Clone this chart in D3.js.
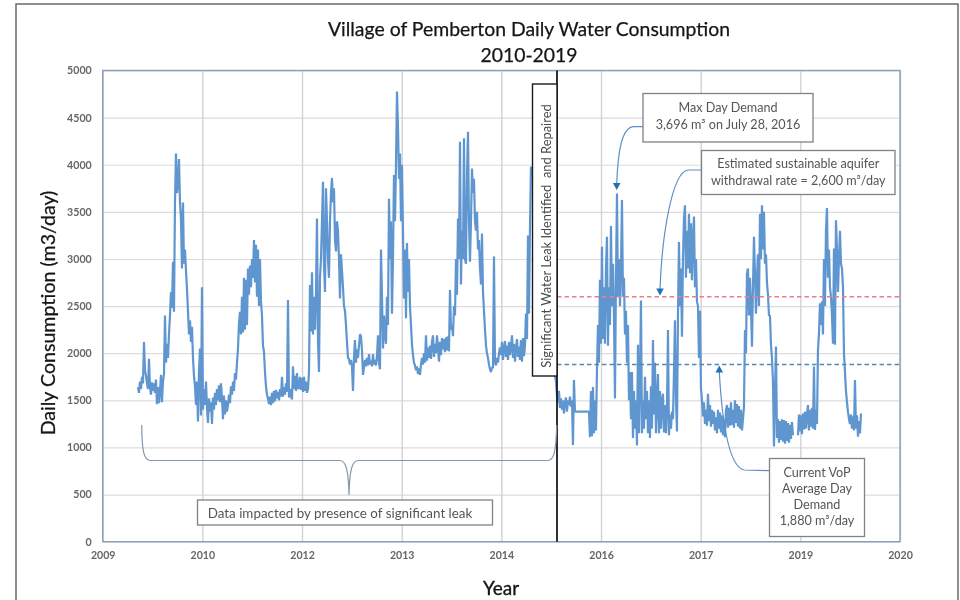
<!DOCTYPE html>
<html>
<head>
<meta charset="utf-8">
<title>Village of Pemberton Daily Water Consumption</title>
<script src="https://cdnjs.cloudflare.com/ajax/libs/d3/7.8.5/d3.min.js"></script>
<style>
	html, body { margin: 0; padding: 0; background: #fff; }
	svg { display: block; filter: blur(0.35px); }
	text { font-family: Lato, "Open Sans", sans-serif; }
</style>
</head>
<body>
<svg id="chart"></svg>
<script>
// x axis is an Excel date axis: serial days, major unit 500, labels shown as yyyy
let xTickDays = [40000, 40500, 41000, 41500, 42000, 42500, 43000, 43500, 44000]
let xTickLabels = ["2009", "2010", "2012", "2013", "2014", "2016", "2017", "2019", "2020"]
let yTicks = [0, 500, 1000, 1500, 2000, 2500, 3000, 3500, 4000, 4500, 5000]

let sustainableRate = 2600
let averageDayDemand = 1880

// readings, about one every 5 days
let daysPerSample = 5.017
let leakPeriodStart = 40177
let leakPeriod = [
	1640,1580,1700,1620,1750,1680,2120,1820,1760,1680,1620,1940,1640,1560,1690,1600,1680,1580,1720,1460,
	1640,1470,1600,1770,1480,1700,1780,2400,1900,2100,1950,2200,2400,2650,2480,2970,2440,3600,4120,3700,
	3800,4060,3600,3420,2900,3600,2950,3100,2880,2680,2450,2200,2350,2120,2280,1950,1760,1650,1450,1700,
	1275,1800,2050,1340,2700,1400,1620,1450,1700,1420,1260,1520,1380,1480,1250,1530,1400,1580,1450,1620,
	1500,1660,1480,1680,1520,1300,1550,1350,1500,1380,1450,1560,1470,1650,1560,1700,1600,1790,1720,1900,
	2050,2320,2440,2200,2600,2220,2800,2250,2780,2300,2900,2620,2930,2700,3000,2800,3200,2750,3150,2600,
	3100,2500,3000,2550,2400,2080,2015,1800,1650,1560,1520,1460,1540,1450,1580,1470,1600,1490,1610,1520,
	1590,1500,1620,1540,1750,1540,1640,1560,1680,1590,2565,1530,1620,1560,1510,1860,1620,1760,1600,1790,
	1620,1640,1750,1610,1740,1590,1750,1600,1700,1580,1620,1800,2725,2230,2860,2200,2600,2250,2620,3430,
	2120,1800,2800,3000,3400,3820,2940,2650,3750,3400,3000,2800,3400,3700,3860,3600,3750,3200,3080,3400,
	3300,3000,2580,3050,2880,2700,2500,2450,2300,2120,1950,1940,1880,1930,1860,1600,1950,2140,1900,2040,
	1950,2080,2200,2180,2030,1770,1850,1930,1860,1950,1870,1990,1880,1920,1860,1990,1880,1930,1870,1970,
	2190,1900,1830,3100,2600,2050,2400,2200,2100,2600,2300,3640,3000,3400,2420,3000,3890,3400,4000,4776,
	4400,3850,4120,3400,4000,3300,2580,3100,2370,3170,2650,3000,2500,2300,2090,1980,1900,1870,1820,1860,
	1780,1840,1770,1880,1950,1880,2000,1900,2190,1920,2060,1950,2080,1940,2120,2190,1960,2100,2000,2190,
	2060,1910,2120,1980,2160,2040,2150,2010,2170,2030,2180,2020,2670,2250,2300,2180,2500,2400,3000,2620,
	3430,3000,4245,2730,3300,3000,4280,3000,2950,3900,4350,3400,2970,3400,3960,3700,3850,3400,3300,3500,
	3100,3200,2900,2730,3270,2650,2450,2250,2080,2000,1950,1880,1830,1800,1850,1840,3025,1900,1870,1950,
	1900,2000,2060,1980,2120,1930,2050,2130,1960,2080,1930,2120,1980,2060,2190,1950,2100,1910,2040,2150,
	1960,2070,1930,2140,1910,2160,1970,2080,2420,2150,3250,2420,3340,3980
]

let repairedPeriodStart = 42269
let repairedPeriod = [
	1760,1700,1550,1480,1600,1420,1520,1400,1500,1360,1480,1530,1380,1500,1450,1540,1430,1500,1025,1715,
	1380,1380,1380,1380,1380,1380,1380,1380,1380,1380,1380,1380,1380,1380,1380,
	1110,1600,1120,1640,1150,1500,1180,1820,2300,1900,2780,2100,3130,2150,2700,2100,2900,3235,2080,2700,
	2300,3350,2500,2950,2400,1520,2800,3696,2600,3000,2500,2900,3625,2600,2800,2200,2450,1900,2300,1500,
	1800,1300,1800,1100,1600,1200,1500,1020,2090,1150,1700,2560,1150,1500,1200,1750,1300,1600,1150,1500,
	1100,1650,1200,2140,1350,1900,1150,1500,1780,1150,1600,1200,1500,1570,1160,1450,1150,1400,2245,1130,
	1350,1200,1380,1300,1800,2350,1500,1170,2400,3180,2500,2900,2175,3000,3430,3570,2800,3300,2900,3480,
	2850,3380,2775,3200,3450,2700,3000,2550,2500,1950,2450,1630,1500,1330,1480,1250,1400,1230,1570,1280,
	1450,1220,1400,1250,1380,1180,1320,1150,1400,
	1200,1370,1160,1340,1130,1300,1110,1400,1450,1210,1420,1230,1480,1240,1400,1210,1500,1260,1460,1220,
	1440,1200,1400,1180,1300,
	1430,2245,2000,2850,2900,2400,2800,2500,2070,2700,3235,2850,2420,2800,3050,2500,3480,3000,3570,3100,
	3500,2950,3050,2750,2620,2400,2400,2090,1950,1700,1010,1600,2070,1100,1300,1050,1280,1080,1300,1060,
	1290,1040,1280,1070,1260,1050,1240,1090,1270,1130,
	null,null,null,null,
	1130,1350,1170,1340,1140,1360,1190,1380,1200,1340,1450,1180,1400,1220,1420,1200,1860,1185,1400,1250,
	2030,2210,2530,2300,2550,2200,3000,2500,3300,3540,2800,3100,2700,2600,2400,2100,3110,2090,3410,3100,
	2650,3000,3300,2950,2900,2700,2000,1800,1600,1480,1380,1300,1250,1350,1200,1330,1180,1715,1200,1340,
	1115,1280,1150,1360
]

let calloutBoxes = [
	{ x: 643, y: 93.5, w: 170, h: 48.5, lines: ["Max Day Demand", "3,696 m³ on July 28, 2016"], first: 111.5, gap: 17 },
	{ x: 701.5, y: 150.5, w: 193.5, h: 44, lines: ["Estimated sustainable aquifer", "withdrawal rate = 2,600 m³/day"], first: 168, gap: 16.5 },
	{ x: 769.5, y: 458.5, w: 95, h: 78, lines: ["Current VoP", "Average Day", "Demand", "1,880 m³/day"], first: 476.5, gap: 16 }
]

let leaders = [
	{ path: "M643,126.7 L634,126.7 C622,127 618,150 616.7,184", tip: [616.7, 190] },
	{ path: "M701.7,170 L688,170 C672,172 662,235 660,289", tip: [660, 295.5] },
	{ path: "M769,470.7 L744,470 C728,466 722,420 719.3,372", tip: [719.3, 365.5], up: true }
]

function getChartConfig() {
	let width = 960;
	let height = 600;
	let margin = {
		top: 70.5,
		bottom: 58.3,
		left: 102.7,
		right: 60
	}
	let bodyHeight = height - margin.top - margin.bottom
	let bodyWidth = width - margin.left - margin.right

	let container = d3.select("#chart")

	container
		.attr("width", width)
		.attr("height", height)

	return { width, height, margin, bodyHeight, bodyWidth, container }
}

function getChartScales(config) {
	let xScale = d3.scaleLinear()
		.domain([40000, 44000])
		.range([0, config.bodyWidth])

	let yScale = d3.scaleLinear()
		.domain([0, 5000])
		.range([config.bodyHeight, 0])

	return { xScale, yScale }
}

function toReadings(startDay, values) {
	return values.map((value, i) => ({ day: startDay + i * daysPerSample, value }))
}

function drawFrameAndTitles(config) {
	let { container } = config

	container.append("rect")
		.attr("x", 16)
		.attr("y", 4)
		.attr("width", 942)
		.attr("height", 640)
		.attr("fill", "#fff")
		.attr("stroke", "#5f5f5f")
		.attr("stroke-width", 1.4)

	container.selectAll(".title")
		.data(["Village of Pemberton Daily Water Consumption", "2010-2019"])
		.join("text")
		.attr("class", "title")
		.attr("x", 529)
		.attr("y", (d, i) => 35.5 + i * 26)
		.attr("text-anchor", "middle")
		.attr("font-size", 19.4)
		.attr("fill", "#151515")
		.attr("stroke", "#151515")
		.attr("stroke-width", 0.25)
		.text(d => d)

	container.append("text")
		.attr("transform", "translate(54.5,313) rotate(-90)")
		.attr("text-anchor", "middle")
		.attr("font-size", 19.6)
		.attr("fill", "#151515")
		.attr("stroke", "#151515")
		.attr("stroke-width", 0.25)
		.text("Daily Consumption (m3/day)")

	container.append("text")
		.attr("x", 501)
		.attr("y", 595)
		.attr("text-anchor", "middle")
		.attr("font-size", 19)
		.attr("fill", "#151515")
		.attr("stroke", "#151515")
		.attr("stroke-width", 0.35)
		.text("Year")
}

function drawAxes(config, scales) {
	let { container, margin, bodyHeight, bodyWidth } = config
	let { xScale, yScale } = scales

	let body = container.append("g")
		.attr("transform", `translate(${margin.left},${margin.top})`)

	let yGrid = d3.axisLeft(yScale)
		.tickValues(yTicks)
		.tickSize(-bodyWidth)
		.tickFormat("")
	body.append("g")
		.call(yGrid)
		.call(g => g.select(".domain").remove())
		.selectAll("line")
		.attr("stroke", "#dcdcdc")
		.attr("stroke-width", 1.2)

	let xGrid = d3.axisBottom(xScale)
		.tickValues(xTickDays)
		.tickSize(-bodyHeight)
		.tickFormat("")
	body.append("g")
		.attr("transform", `translate(0,${bodyHeight})`)
		.call(xGrid)
		.call(g => g.select(".domain").remove())
		.selectAll("line")
		.attr("stroke", "#d2d2d6")
		.attr("stroke-width", 1.4)

	let yAxis = d3.axisLeft(yScale)
		.tickValues(yTicks)
		.tickSize(0)
		.tickPadding(11)
		.tickFormat(d3.format("d"))
	body.append("g")
		.call(yAxis)
		.call(g => g.select(".domain").remove())
		.selectAll("text")
		.attr("font-family", "Lato")
		.attr("font-size", 10.6)
		.attr("font-weight", 700)
		.attr("fill", "#666")

	let xAxis = d3.axisBottom(xScale)
		.tickValues(xTickDays)
		.tickSize(0)
		.tickPadding(10)
		.tickFormat((d, i) => xTickLabels[i])
	body.append("g")
		.attr("transform", `translate(0,${bodyHeight})`)
		.call(xAxis)
		.call(g => g.select(".domain").remove())
		.selectAll("text")
		.attr("font-family", "Lato")
		.attr("font-size", 10.6)
		.attr("font-weight", 700)
		.attr("fill", "#666")

	body.append("rect")
		.attr("width", bodyWidth)
		.attr("height", bodyHeight)
		.attr("fill", "none")
		.attr("stroke", "#8b9eb8")
		.attr("stroke-width", 1.4)

	return body
}

function drawSeries(body, scales) {
	let { xScale, yScale } = scales

	let line = d3.line()
		.defined(d => d.value !== null)
		.x(d => xScale(d.day))
		.y(d => yScale(d.value))

	body.selectAll(".consumption")
		.data([toReadings(leakPeriodStart, leakPeriod), toReadings(repairedPeriodStart, repairedPeriod)])
		.join("path")
		.attr("class", "consumption")
		.attr("fill", "none")
		.attr("stroke", "#6096d0")
		.attr("stroke-width", 2.2)
		.attr("stroke-linejoin", "bevel")
		.attr("d", line)
}

function drawReferenceLines(body, config, scales) {
	let { bodyWidth } = config
	let { xScale, yScale } = scales
	let repairDay = xScale.invert(557 - config.margin.left)

	body.selectAll(".reference")
		.data([
			{ value: sustainableRate, color: "#e8808c" },
			{ value: averageDayDemand, color: "#4f89b5" }
		])
		.join("line")
		.attr("class", "reference")
		.attr("x1", xScale(repairDay))
		.attr("x2", bodyWidth)
		.attr("y1", d => yScale(d.value))
		.attr("y2", d => yScale(d.value))
		.attr("stroke", d => d.color)
		.attr("stroke-width", 1.4)
		.attr("stroke-dasharray", "4.5 3")

	body.append("line")
		.attr("x1", xScale(repairDay))
		.attr("x2", xScale(repairDay))
		.attr("y1", 0)
		.attr("y2", config.bodyHeight)
		.attr("stroke", "#1a1a1a")
		.attr("stroke-width", 1.8)
}

function drawAnnotations(config) {
	let { container } = config

	// leak brace along the bottom of the leak period
	container.append("path")
		.attr("d", "M141.7,425 C142,452 144,460 150,460.5 L340,460.5 C346,461 348.5,470 349,495 C349.5,470 352,461 358,460.5 L548,460.5 C554,460 556,452 556.7,425")
		.attr("fill", "none")
		.attr("stroke", "#8496ad")
		.attr("stroke-width", 1.2)

	container.append("rect")
		.attr("x", 197.5)
		.attr("y", 500)
		.attr("width", 295)
		.attr("height", 25)
		.attr("fill", "#fff")
		.attr("stroke", "#7f8286")
		.attr("stroke-width", 1.3)

	container.append("text")
		.attr("x", 340)
		.attr("y", 518)
		.attr("text-anchor", "middle")
		.attr("font-size", 13.4)
		.attr("fill", "#555")
		.text("Data impacted by presence of significant leak")

	// box over the series at the repair date
	container.append("rect")
		.attr("x", 532.5)
		.attr("y", 84)
		.attr("width", 24.5)
		.attr("height", 292)
		.attr("fill", "#fff")
		.attr("stroke", "#1a1a1a")
		.attr("stroke-width", 1.4)

	container.append("text")
		.attr("transform", "translate(550.5,236) rotate(-90)")
		.attr("text-anchor", "middle")
		.attr("font-size", 12.9)
		.attr("fill", "#4a4a4a")
		.attr("xml:space", "preserve")
		.text("Significant Water Leak Identified  and Repaired")

	container.selectAll(".leader")
		.data(leaders)
		.join("path")
		.attr("class", "leader")
		.attr("d", d => d.path)
		.attr("fill", "none")
		.attr("stroke", "#5c90c4")
		.attr("stroke-width", 1.2)

	container.selectAll(".leaderTip")
		.data(leaders)
		.join("path")
		.attr("class", "leaderTip")
		.attr("d", d => {
			let [x, y] = d.tip
			let back = d.up ? y + 7 : y - 7
			return `M${x},${y} L${x - 3.8},${back} L${x + 3.8},${back} Z`
		})
		.attr("fill", "#2570b4")

	let boxes = container.selectAll(".callout")
		.data(calloutBoxes)
		.join("g")
		.attr("class", "callout")

	boxes.append("rect")
		.attr("x", d => d.x)
		.attr("y", d => d.y)
		.attr("width", d => d.w)
		.attr("height", d => d.h)
		.attr("fill", "#fff")
		.attr("stroke", "#7f8286")
		.attr("stroke-width", 1.3)

	boxes.each(function(d) {
		d3.select(this).selectAll("text")
			.data(d.lines)
			.join("text")
			.attr("x", d.x + d.w / 2)
			.attr("y", (line, i) => d.first + i * d.gap)
			.attr("text-anchor", "middle")
			.attr("font-size", 12.6)
			.attr("fill", "#555")
			.text(line => line)
	})
}

let config = getChartConfig()
let scales = getChartScales(config)

drawFrameAndTitles(config)
let body = drawAxes(config, scales)
drawSeries(body, scales)
drawReferenceLines(body, config, scales)
drawAnnotations(config)
</script>
</body>
</html>
